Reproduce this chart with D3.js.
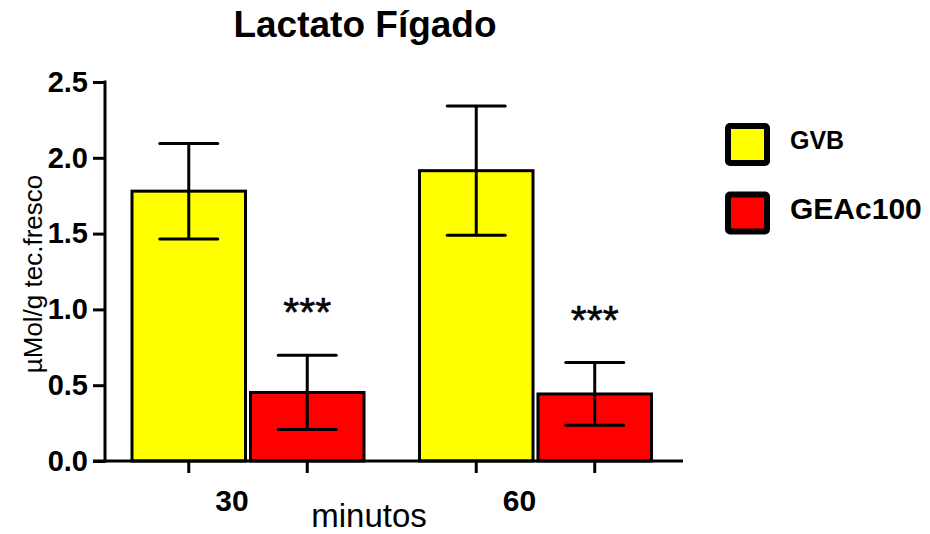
<!DOCTYPE html>
<html>
<head>
<meta charset="utf-8">
<script src="https://cdn.jsdelivr.net/npm/d3@7"></script>
<style>
  html, body { margin: 0; padding: 0; background: #fff; }
  svg { display: block; font-family: "Liberation Sans", Arial, sans-serif; }
</style>
</head>
<body>
<svg id="chart" width="930" height="534"></svg>
<script>
// Liver lactate, µMol/g fresh tissue (mean ± SEM)
const groups = ["30", "60"];
const series = ["GVB", "GEAc100"];
const means = {
  GVB:     [1.78, 1.915],
  GEAc100: [0.452, 0.442]
};
const sems = {
  GVB:     [0.315, 0.426],
  GEAc100: [0.245, 0.207]
};
const significance = {
  GVB:     ["", ""],
  GEAc100: ["***", "***"]
};
const colors = { GVB: "#FFFF00", GEAc100: "#FF0000" };
const yTicks = [0, 0.5, 1.0, 1.5, 2.0, 2.5];

const svg = d3.select("#chart");

const axisX0 = 105, axisX1 = 683;
const y = d3.scaleLinear().domain([0, 2.5]).range([461, 82]);

const x0 = d3.scaleBand().domain(groups)
  .range([104.7, 678.8]).paddingInner(0.193).paddingOuter(0.095);
const x1 = d3.scaleBand().domain(series)
  .range([0, x0.bandwidth()]).paddingInner(0.042);

// Bars
const rows = [];
groups.forEach((g, i) => series.forEach(s => rows.push({
  g, s, mean: means[s][i], sem: sems[s][i], sig: significance[s][i]
})));

const bars = svg.append("g");
bars.selectAll("rect").data(rows).join("rect")
  .attr("x", d => x0(d.g) + x1(d.s))
  .attr("y", d => y(d.mean))
  .attr("width", x1.bandwidth())
  .attr("height", d => y(0) - y(d.mean))
  .attr("fill", d => colors[d.s])
  .attr("stroke", "#000")
  .attr("stroke-width", 3);

// Error bars
const capHalf = 29;
const eb = svg.append("g").attr("stroke", "#000").attr("stroke-width", 3).attr("fill", "none");
rows.forEach(d => {
  const cx = x0(d.g) + x1(d.s) + x1.bandwidth() / 2;
  eb.append("line").attr("x1", cx).attr("x2", cx)
    .attr("y1", y(d.mean + d.sem)).attr("y2", y(d.mean - d.sem));
  [d.mean + d.sem, d.mean - d.sem].forEach(v => {
    eb.append("line").attr("x1", cx - capHalf).attr("x2", cx + capHalf)
      .attr("y1", y(v)).attr("y2", y(v)).attr("stroke-linecap", "round");
  });
});

// Significance marks
svg.append("g").selectAll("text").data(rows.filter(d => d.sig)).join("text")
  .attr("x", d => x0(d.g) + x1(d.s) + x1.bandwidth() / 2)
  .attr("y", d => y(d.mean + d.sem) - 29)
  .attr("text-anchor", "middle")
  .attr("font-size", 41)
  .attr("stroke", "#000").attr("stroke-width", 0.6)
  .text(d => d.sig);

// Y axis
const yAxis = svg.append("g").attr("transform", `translate(${axisX0},0)`)
  .call(d3.axisLeft(y).tickValues(yTicks).tickFormat(d3.format(".1f"))
    .tickSize(12).tickSizeOuter(0).tickPadding(5));
yAxis.select(".domain").attr("stroke-width", 3).attr("d", `M0,${y(2.5) - 1.5}V${y(0) + 1.5}`);
yAxis.selectAll(".tick line").attr("stroke-width", 3);
yAxis.selectAll(".tick text")
  .attr("font-size", 29).attr("font-weight", "bold").attr("fill", "#000")
  .attr("font-family", "Liberation Sans, Arial, sans-serif");

// X axis line and ticks under each bar
const xa = svg.append("g").attr("stroke", "#000").attr("stroke-width", 3);
xa.append("line").attr("x1", axisX0 - 12).attr("x2", axisX1)
  .attr("y1", y(0)).attr("y2", y(0));
rows.forEach(d => {
  const cx = x0(d.g) + x1(d.s) + x1.bandwidth() / 2;
  xa.append("line").attr("x1", cx).attr("x2", cx).attr("y1", y(0)).attr("y2", y(0) + 12);
});

// Group labels
svg.append("g").selectAll("text").data(groups).join("text")
  .attr("x", g => x0(g) + x0.bandwidth() / 2 - 16)
  .attr("y", 511)
  .attr("text-anchor", "middle")
  .attr("font-size", 30).attr("font-weight", "bold")
  .text(g => g);

// Axis titles
svg.append("text").attr("x", 369).attr("y", 527).attr("text-anchor", "middle")
  .attr("font-size", 33).text("minutos");
svg.append("text").attr("transform", "translate(42,274) rotate(-90)")
  .attr("text-anchor", "middle").attr("font-size", 26).text("µMol/g tec.fresco");

// Title
svg.append("text").attr("x", 365).attr("y", 37).attr("text-anchor", "middle")
  .attr("font-size", 37).attr("font-weight", "bold").text("Lactato Fígado");

// Legend
const legY = { GVB: 144.5, GEAc100: 213 };
const legSize = { GVB: 25, GEAc100: 30 };
const leg = svg.append("g");
series.forEach(s => {
  leg.append("rect").attr("x", 728).attr("y", legY[s] - 18.5)
    .attr("width", 39).attr("height", 37).attr("rx", 2)
    .attr("fill", colors[s]).attr("stroke", "#000").attr("stroke-width", 6);
  leg.append("text").attr("x", 790).attr("y", legY[s] - 5 + legSize[s] * 0.36)
    .attr("font-size", legSize[s]).attr("font-weight", "bold").text(s);
});
</script>
</body>
</html>
